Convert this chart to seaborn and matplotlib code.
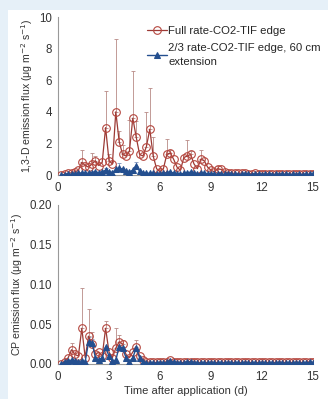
import numpy as np
import pandas as pd
import matplotlib
matplotlib.use('Agg')
import matplotlib.pyplot as plt
import seaborn as sb

# sampling times (d)
days = [round(0.2 * k, 1) for k in range(1, 76)]

# 1,3-D flux, full rate (red circles)
d13_full = [0.0, 0.05, 0.1, 0.15, 0.2, 0.3, 0.8, 0.6, 0.5, 0.7,
            0.9, 0.6, 0.8, 3.0, 0.9, 0.7, 4.0, 2.1, 1.3, 1.2,
            1.5, 3.6, 2.4, 1.3, 1.2, 1.8, 2.9, 1.2, 0.4, 0.2,
            0.4, 1.3, 1.4, 1.0, 0.5, 0.3, 1.1, 1.2, 1.3, 0.7,
            0.4, 1.0, 0.9, 0.5, 0.3, 0.2, 0.4, 0.35, 0.2, 0.15,
            0.12, 0.1, 0.1, 0.12, 0.1, 0.08, 0.08, 0.1, 0.07, 0.06,
            0.08, 0.07, 0.06, 0.05, 0.06, 0.07, 0.05, 0.06, 0.05, 0.04,
            0.05, 0.06, 0.05, 0.04, 0.05]
# 1,3-D flux, 2/3 rate + 60 cm extension (blue triangles)
d13_ext = [0.0, 0.02, 0.05, 0.05, 0.08, 0.1, 0.15, 0.1, 0.12, 0.15,
           0.2, 0.15, 0.2, 0.3, 0.2, 0.15, 0.35, 0.45, 0.35, 0.25,
           0.2, 0.3, 0.55, 0.25, 0.15, 0.1, 0.12, 0.1, 0.08, 0.06,
           0.1, 0.15, 0.2, 0.12, 0.08, 0.06, 0.1, 0.15, 0.18, 0.1,
           0.06, 0.1, 0.12, 0.08, 0.05, 0.05, 0.06, 0.04, 0.05, 0.04,
           0.05, 0.04, 0.03, 0.05, 0.04, 0.04, 0.03, 0.05, 0.04, 0.03,
           0.04, 0.05, 0.03, 0.04, 0.03, 0.04, 0.05, 0.03, 0.04, 0.03,
           0.04, 0.03, 0.04, 0.05, 0.04]

# CP flux
cp_full = [0.0, 0.003, 0.008, 0.018, 0.012, 0.01, 0.045, 0.008, 0.035, 0.025,
           0.012, 0.015, 0.01, 0.045, 0.015, 0.008, 0.02, 0.028, 0.025, 0.012,
           0.008, 0.015, 0.022, 0.01, 0.005, 0.003, 0.002, 0.002, 0.002, 0.002,
           0.002, 0.003, 0.005, 0.003, 0.002, 0.002, 0.002, 0.003, 0.003, 0.002,
           0.002, 0.002, 0.002, 0.002, 0.002, 0.002, 0.002, 0.002, 0.002, 0.002,
           0.002, 0.002, 0.002, 0.002, 0.002, 0.002, 0.002, 0.002, 0.002, 0.002,
           0.002, 0.002, 0.002, 0.002, 0.002, 0.002, 0.002, 0.002, 0.002, 0.002,
           0.002, 0.002, 0.002, 0.003, 0.002]
cp_ext = [0.0, 0.003, 0.004, 0.005, 0.004, 0.003, 0.004, 0.003, 0.028, 0.027,
          0.008, 0.005, 0.008, 0.021, 0.01, 0.004, 0.005, 0.022, 0.02, 0.008,
          0.003, 0.008, 0.02, 0.008, 0.003, 0.001, 0.001, 0.001, 0.001, 0.001,
          0.001, 0.002, 0.004, 0.002, 0.001, 0.001, 0.001, 0.003, 0.002, 0.001,
          0.001, 0.001, 0.001, 0.001, 0.001, 0.001, 0.001, 0.001, 0.001, 0.001,
          0.001, 0.001, 0.001, 0.001, 0.001, 0.001, 0.001, 0.001, 0.001, 0.001,
          0.001, 0.001, 0.001, 0.001, 0.001, 0.001, 0.001, 0.001, 0.001, 0.001,
          0.001, 0.001, 0.001, 0.002, 0.001]

# upper error bar caps (time, top value)
d13_full_err_t = [1.4, 2.0, 2.2, 2.8, 3.0, 3.4, 3.6, 3.8, 4.2, 4.4, 4.6, 5.2, 5.4, 5.6, 6.4, 6.6, 7.6, 7.8, 8.4, 9.4]
d13_full_err_top = [1.6, 1.4, 1.2, 5.3, 1.3, 8.6, 2.8, 1.9, 3.5, 6.6, 3.4, 4.0, 5.5, 2.4, 2.3, 1.6, 2.2, 1.5, 1.6, 0.6]
d13_ext_err_t = [2.8, 3.6, 4.6]
d13_ext_err_top = [0.45, 0.75, 0.85]
cp_full_err_t = [0.8, 1.4, 1.8, 2.0, 2.8, 3.4, 3.6, 3.8, 4.6]
cp_full_err_top = [0.026, 0.096, 0.069, 0.04, 0.054, 0.045, 0.036, 0.03, 0.03]
cp_ext_err_t = [1.8, 2.0]
cp_ext_err_top = [0.034, 0.032]

labels = ['Full rate-CO2-TIF edge', '2/3 rate-CO2-TIF edge, 60 cm\nextension']
x_ticks = [0, 3, 6, 9, 12, 15]

red = '#b5473f'
red_line = '#9c3a35'
blue = '#244f8f'

sb.set_style('white')
plt.rcParams['font.family'] = ['Liberation Sans', 'DejaVu Sans']

fig = plt.figure(figsize=(3.28, 3.99), dpi=100)
fig.patch.set_facecolor('#e6f0f8')
fig.patches.append(plt.Rectangle((8 / 328, 0), 1, 1 - 10 / 399, transform=fig.transFigure,
                                 facecolor='white', edgecolor='none', zorder=-5))

ax1 = fig.add_axes([58 / 328, 1 - 175 / 399, 255 / 328, 158 / 399])
ax2 = fig.add_axes([58 / 328, 1 - 364 / 399, 255 / 328, 159 / 399])

df = pd.DataFrame({'days': days, 'd13_full': d13_full, 'd13_ext': d13_ext,
                   'cp_full': cp_full, 'cp_ext': cp_ext})


def draw_panel(ax, col_full, col_ext, errs, ymax, yticks, fmt, ylabel):
    for (et, etop, col, c) in errs:
        mean = np.interp(et, df['days'], df[col])
        up = np.array(etop) - mean
        ax.errorbar(et, mean, yerr=[np.zeros(len(et)), up], fmt='none',
                    ecolor=c, elinewidth=0.6, capsize=1.5, capthick=0.6, zorder=2)
    sb.lineplot(data=df, x='days', y=col_full, ax=ax, color=red_line, lw=0.9,
                marker='o', markersize=5.5, markerfacecolor='none', markeredgecolor=red,
                markeredgewidth=0.8, label=labels[0], zorder=3)
    sb.lineplot(data=df, x='days', y=col_ext, ax=ax, color=blue, lw=1.0,
                marker='^', markersize=3.8, markeredgecolor=blue,
                label=labels[1], zorder=4)
    ax.set_xlim(0, 15)
    ax.set_ylim(0, ymax)
    ax.set_xticks(x_ticks)
    ax.set_yticks(yticks)
    ax.set_yticklabels([fmt.format(v) for v in yticks])
    ax.set_xlabel('')
    ax.set_ylabel(ylabel, fontsize=7.6, color='#333333', labelpad=3)
    ax.tick_params(labelsize=8.3, colors='#333333', length=2.5, width=0.6, pad=2)
    ax.tick_params(axis='x', length=0, pad=5)
    sb.despine(ax=ax)
    for s in ('left', 'bottom'):
        ax.spines[s].set_color('#999999')
        ax.spines[s].set_linewidth(0.8)


draw_panel(ax1, 'd13_full', 'd13_ext',
           [(d13_full_err_t, d13_full_err_top, 'd13_full', '#b88a86'),
            (d13_ext_err_t, d13_ext_err_top, 'd13_ext', '#7d93bb')],
           10, [0, 2, 4, 6, 8, 10], '{:.0f}',
           '1,3-D emission flux (μg m$^{-2}$ s$^{-1}$)')
draw_panel(ax2, 'cp_full', 'cp_ext',
           [(cp_full_err_t, cp_full_err_top, 'cp_full', '#b88a86'),
            (cp_ext_err_t, cp_ext_err_top, 'cp_ext', '#7d93bb')],
           0.2, [0, 0.05, 0.10, 0.15, 0.20], '{:.2f}',
           'CP emission flux (μg m$^{-2}$ s$^{-1}$)')

leg = ax1.legend(loc='upper left', bbox_to_anchor=(0.35, 0.94), frameon=False, fontsize=8.2,
                 handlelength=1.7, handletextpad=0.15, labelspacing=0.6, borderaxespad=0,
                 borderpad=0)
leg.get_texts()[1].set_linespacing(1.5)
ax2.get_legend().remove()
ax2.set_xlabel('Time after application (d)', fontsize=8, color='#333333', labelpad=2)

fig.savefig('out.png', dpi=100, facecolor=fig.get_facecolor())
